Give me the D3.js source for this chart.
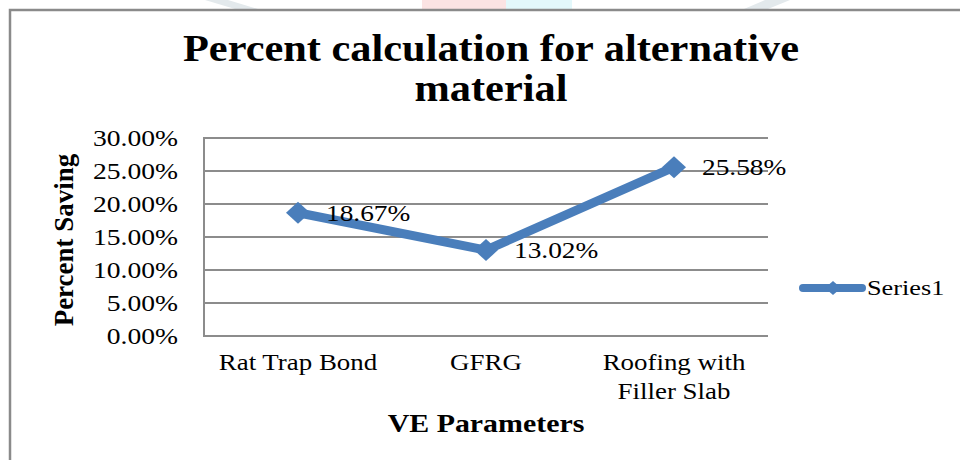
<!DOCTYPE html>
<html>
<head>
<meta charset="utf-8">
<script src="https://cdn.jsdelivr.net/npm/d3@7"></script>
<style>
  body { margin: 0; background: #fff; }
  svg { display: block; }
  text { font-family: "Liberation Serif", "Times New Roman", serif; fill: #000; }
</style>
</head>
<body>
<svg id="chart" width="960" height="460"></svg>
<script>
// chart data
const categories = ["Rat Trap Bond", "GFRG", "Roofing with\nFiller Slab"];
const values = [0.1867, 0.1302, 0.2558];
const valueLabels = ["18.67%", "13.02%", "25.58%"];
const yTicks = [0, 0.05, 0.10, 0.15, 0.20, 0.25, 0.30];
const seriesName = "Series1";

const svg = d3.select("#chart");
const blue = "#4a7ebb";
const grid = "#8c8c8c";

// the source picture is a bit wider than tall, so text is stretched sideways
function stretch(sel, k) {
  sel.attr("transform", function() {
    const ax = +d3.select(this).attr("x");
    return `translate(${ax},0) scale(${k},1) translate(${-ax},0)`;
  });
}

// faint watermark pieces peeking above the frame
const wm = svg.append("g");
wm.append("path").attr("d", "M205,0 L228,0 L258,9 L235,9 Z").attr("fill", "#e3e9ec");
wm.append("rect").attr("x", 422).attr("y", 0).attr("width", 84).attr("height", 9).attr("fill", "#fbe3e3");
wm.append("rect").attr("x", 506).attr("y", 0).attr("width", 66).attr("height", 9).attr("fill", "#e3f8fb");
wm.append("path").attr("d", "M765,0 L790,0 L768,9 L744,9 Z").attr("fill", "#e3e9ec");

// outer frame (only top and left visible)
svg.append("path")
  .attr("d", "M10,460 L10,10 L960,10")
  .attr("fill", "none")
  .attr("stroke", "#8a8a8a")
  .attr("stroke-width", 2.5);

// title
const titleLines = ["Percent calculation for alternative", "material"];
const titleText = svg.append("g")
  .selectAll("text")
  .data(titleLines)
  .join("text")
    .attr("x", 491)
    .attr("y", (d, i) => 61 + i * 40)
    .attr("text-anchor", "middle")
    .attr("font-weight", "bold")
    .attr("font-size", 38)
    .text(d => d);
stretch(titleText, 1.115);

const plotL = 204, plotR = 768, plotT = 138, plotB = 336;

const x = d3.scaleBand()
  .domain(categories)
  .range([plotL, plotR]);

const y = d3.scaleLinear()
  .domain([0, 0.30])
  .range([plotB, plotT]);

const cx = d => x(d) + x.bandwidth() / 2;

// gridlines
svg.append("g")
  .selectAll("line")
  .data(yTicks)
  .join("line")
    .attr("x1", plotL)
    .attr("x2", plotR)
    .attr("y1", d => y(d))
    .attr("y2", d => y(d))
    .attr("stroke", grid)
    .attr("stroke-width", 2);

// left axis line
svg.append("line")
  .attr("x1", plotL).attr("x2", plotL)
  .attr("y1", y(0.30) - 1).attr("y2", y(0) + 1)
  .attr("stroke", grid)
  .attr("stroke-width", 2);

// y tick labels
const tickText = svg.append("g")
  .selectAll("text")
  .data(yTicks)
  .join("text")
    .attr("x", 178)
    .attr("y", d => y(d))
    .attr("dy", "0.35em")
    .attr("text-anchor", "end")
    .attr("font-size", 23)
    .text(d => d3.format(".2%")(d));
stretch(tickText, 1.2);

// x category labels, one text per line
const catLines = [];
categories.forEach(c => {
  c.split("\n").forEach((l, i) => catLines.push({ cat: c, line: l, row: i }));
});
const catText = svg.append("g")
  .selectAll("text")
  .data(catLines)
  .join("text")
    .attr("x", d => cx(d.cat))
    .attr("y", d => 370 + d.row * 29)
    .attr("text-anchor", "middle")
    .attr("font-size", 23)
    .text(d => d.line);
stretch(catText, 1.17);

// axis titles
const xTitle = svg.append("text")
  .attr("x", 486)
  .attr("y", 432)
  .attr("text-anchor", "middle")
  .attr("font-weight", "bold")
  .attr("font-size", 26)
  .text("VE Parameters");
stretch(xTitle, 1.15);

svg.append("text")
  .attr("transform", "translate(73,240) rotate(-90)")
  .attr("text-anchor", "middle")
  .attr("font-weight", "bold")
  .attr("font-size", 27)
  .text("Percent Saving");

// series line
const line = d3.line()
  .x((d, i) => cx(categories[i]))
  .y(d => y(d));

svg.append("path")
  .datum(values)
  .attr("d", line)
  .attr("fill", "none")
  .attr("stroke", blue)
  .attr("stroke-width", 9)
  .attr("stroke-linejoin", "round");

// diamond markers
const diamond = "M0,-11 L12,0 L0,11 L-12,0 Z";
svg.append("g")
  .selectAll("path")
  .data(values)
  .join("path")
    .attr("transform", (d, i) => `translate(${cx(categories[i])},${y(d)})`)
    .attr("d", diamond)
    .attr("fill", blue);

// data labels
const valText = svg.append("g")
  .selectAll("text")
  .data(values)
  .join("text")
    .attr("x", (d, i) => cx(categories[i]) + 28)
    .attr("y", d => y(d))
    .attr("dy", "0.35em")
    .attr("font-size", 23)
    .text((d, i) => valueLabels[i]);
stretch(valText, 1.19);

// legend
const lg = svg.append("g").attr("transform", "translate(803,288)");
lg.append("line")
  .attr("x1", 0).attr("x2", 59)
  .attr("stroke", blue)
  .attr("stroke-width", 8)
  .attr("stroke-linecap", "round");
lg.append("path")
  .attr("transform", "translate(30,0)")
  .attr("d", "M0,-7 L8,0 L0,7 L-8,0 Z")
  .attr("fill", blue);
const lgText = lg.append("text")
  .attr("x", 64)
  .attr("dy", "0.35em")
  .attr("font-size", 21)
  .text(seriesName);
stretch(lgText, 1.25);
</script>
</body>
</html>
